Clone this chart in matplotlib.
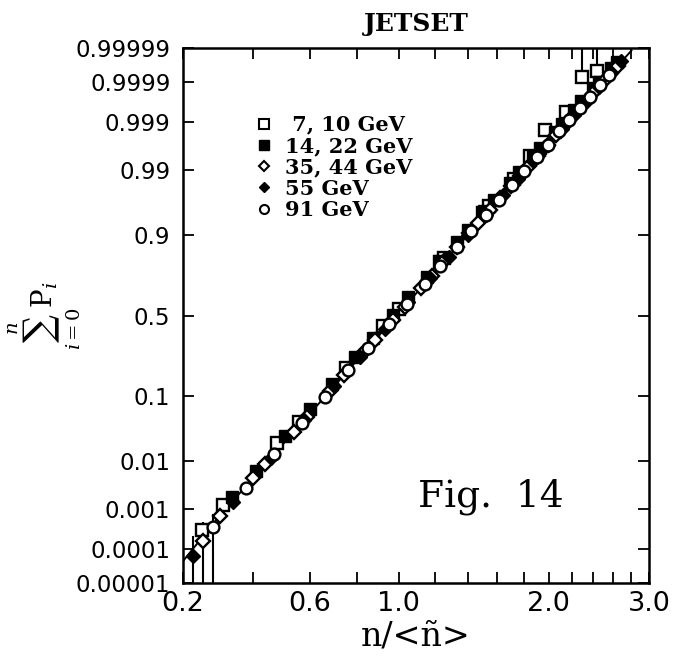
import numpy as np
import matplotlib
matplotlib.use("Agg")
import matplotlib.pyplot as plt
from matplotlib.lines import Line2D
from matplotlib.ticker import NullLocator
from statistics import NormalDist

# 7, 10 GeV (open squares)
sq_open_x = [0.25, 0.31, 0.48, 0.56, 0.75, 0.92, 1.00, 1.23, 1.25, 1.50, 1.54, 1.72, 1.85, 1.97, 2.15, 2.30, 2.44]
sq_open_p = [3.2e-4, 1.24e-3, 0.0214, 0.0452, 0.2033, 0.4325, 0.5438, 0.8051, 0.8212, 0.9495, 0.9599,
             0.98552, 0.99461, 0.99846, 0.999423, 0.999927, 0.99995]

# 14, 22 GeV (filled squares)
sq_fill_x = [0.335, 0.41, 0.51, 0.60, 0.69, 0.79, 0.87, 0.97, 1.05, 1.15, 1.23, 1.33, 1.40, 1.51,
             1.58, 1.69, 1.76, 1.87, 1.93, 2.05, 2.11, 2.22, 2.29, 2.40, 2.46, 2.58, 2.64]
sq_fill_p = [1.9e-3, 6.5e-3, 0.0269, 0.0681, 0.139, 0.2524, 0.3617, 0.5056, 0.6147, 0.7324, 0.8076,
             0.8782, 0.9137, 0.9518, 0.9675, 0.98295, 0.98887, 0.99444, 0.99624, 0.99831, 0.998875,
             0.999474, 0.999678, 0.999853, 0.999904, 0.999959, 0.999974]

# 35, 44 GeV (open diamonds)
dm_open_x = [0.253, 0.30, 0.40, 0.44, 0.54, 0.59, 0.68, 0.74, 0.83, 0.88, 0.97, 1.03, 1.12, 1.18,
             1.26, 1.33, 1.41, 1.47, 1.55, 1.62, 1.70, 1.77, 1.84, 1.91, 1.99, 2.06, 2.13, 2.21,
             2.28, 2.36, 2.43, 2.50, 2.58, 2.65]
dm_open_p = [1.64e-4, 7.15e-4, 4.73e-3, 8.79e-3, 0.0316, 0.0529, 0.1134, 0.1705, 0.2782, 0.3461,
             0.4737, 0.5570, 0.6713, 0.7372, 0.8106, 0.8612, 0.9053, 0.9301, 0.9542, 0.9690,
             0.98043, 0.98711, 0.99161, 0.99459, 0.99677, 0.99796, 0.998718, 0.999254, 0.999538,
             0.999735, 0.999838, 0.999901, 0.999944, 0.999966]

# 55 GeV (filled diamonds)
dm_fill_x = [0.226, 0.34, 0.46, 0.58, 0.70, 0.81, 0.93, 1.05, 1.17, 1.28, 1.40, 1.52, 1.64, 1.75,
             1.87, 1.99, 2.11, 2.22, 2.34, 2.46, 2.57, 2.69]
dm_fill_p = [6.4e-5, 1.5e-3, 0.01169, 0.0480, 0.1310, 0.2524, 0.4167, 0.5838, 0.7269, 0.8263, 0.9005,
             0.9462, 0.9723, 0.98545, 0.99304, 0.99677, 0.998535, 0.999303, 0.999695, 0.999869,
             0.99994, 0.999975]

# 91 GeV (open circles)
circ_x = [0.28, 0.38, 0.47, 0.57, 0.66, 0.76, 0.85, 0.95, 1.04, 1.14, 1.23, 1.33, 1.42, 1.52, 1.61,
          1.71, 1.80, 1.90, 1.99, 2.09, 2.18, 2.28, 2.37, 2.47, 2.56]
circ_p = [3.8e-4, 3.0e-3, 0.0134, 0.0434, 0.0973, 0.1924, 0.3048, 0.4452, 0.5705, 0.6942, 0.785,
          0.8612, 0.9099, 0.9462, 0.9672, 0.9815, 0.98926, 0.99424, 0.99677, 0.99833, 0.999085,
          0.999538, 0.999753, 0.999878, 0.999935]

# points carrying visible error bars
err_x = [0.226, 0.253, 0.28, 2.30, 2.44]
err_p = [6.4e-5, 1.64e-4, 3.8e-4, 0.999927, 0.99995]
err_lo = [1.6e-4, 3.2e-4, 4.0e-4, 2e-5, 2e-5]
err_hi = [1.6e-4, 3.2e-4, 4.0e-4, 1e-4, 1e-4]

# fitted curve
fit_x = [0.2, 0.3, 0.6, 1.0, 1.6, 2.2, 2.8]
fit_p = [4.5e-5, 7.1e-4, 0.0582, 0.516, 0.9652, 0.9992, 0.999988]

xticks = [0.2, 0.4, 0.6, 0.8, 1.0, 1.2, 1.4, 1.6, 1.8, 2.0, 2.2, 2.4, 2.6, 2.8, 3.0]
xtick_labels = ["0.2", "", "0.6", "", "1.0", "", "", "", "", "2.0", "", "", "", "", "3.0"]
yticks = [0.00001, 0.0001, 0.001, 0.01, 0.1, 0.5, 0.9, 0.99, 0.999, 0.9999, 0.99999]
ytick_labels = ["0.00001", "0.0001", "0.001", "0.01", "0.1", "0.5", "0.9", "0.99", "0.999",
                "0.9999", "0.99999"]

# probability-paper scales
_nd = NormalDist()
_ppf = np.vectorize(_nd.inv_cdf, otypes=[float])
_cdf = np.vectorize(_nd.cdf, otypes=[float])


def prob_fwd(p):
    p = np.clip(np.asarray(p, dtype=float), 1e-15, 1 - 1e-15)
    return _ppf(p)


def prob_inv(z):
    return _cdf(np.asarray(z, dtype=float))


def x_fwd(x):
    return np.log(np.clip(np.asarray(x, dtype=float) + 0.58, 1e-9, None))


def x_inv(u):
    return np.exp(np.asarray(u, dtype=float)) - 0.58


plt.rcParams["mathtext.fontset"] = "dejavuserif"

fig = plt.figure(figsize=(6.79, 6.62), dpi=100)
ax = fig.add_axes([0.2695, 0.1193, 0.6863, 0.8082])
ax.set_xscale("function", functions=(x_fwd, x_inv))
ax.set_yscale("function", functions=(prob_fwd, prob_inv))

ax.plot(fit_x, fit_p, color="k", lw=1.4, zorder=2)
ax.errorbar(err_x, err_p, yerr=[err_lo, err_hi], fmt="none", ecolor="k", elinewidth=1.5,
            capsize=0, zorder=2)

ms = 8.5
ax.plot(sq_open_x, sq_open_p, "s", ms=ms, mfc="white", mec="k", mew=1.7, zorder=3)
ax.plot(sq_fill_x, sq_fill_p, "s", ms=ms, color="k", zorder=3)
ax.plot(dm_open_x, dm_open_p, "D", ms=ms - 1.5, mfc="white", mec="k", mew=1.7, zorder=3)
ax.plot(dm_fill_x, dm_fill_p, "D", ms=ms - 1.5, color="k", zorder=3)
ax.plot(circ_x, circ_p, "o", ms=ms, mfc="white", mec="k", mew=1.7, zorder=3)

ax.set_xlim(0.2, 3.0)
ax.set_ylim(0.00001, 0.99999)
ax.set_xticks(xticks)
ax.set_xticklabels(xtick_labels, fontsize=19.5, family="DejaVu Sans")
ax.set_yticks(yticks)
ax.set_yticklabels(ytick_labels, fontsize=16.5, family="DejaVu Sans")
ax.xaxis.set_minor_locator(NullLocator())
ax.yaxis.set_minor_locator(NullLocator())
ax.tick_params(direction="in", length=8, width=1.3, top=True, right=True)
ax.tick_params(axis="y", pad=9)
ax.tick_params(axis="x", pad=6)
for s in ax.spines.values():
    s.set_linewidth(1.8)

ax.set_title("JETSET", fontsize=18, family="DejaVu Serif", weight="bold", pad=12)
ax.set_xlabel("n/<ñ>", fontsize=24, family="DejaVu Serif", labelpad=2)
fig.text(0.066, 0.523, r"$\sum_{i=0}^{n} \mathrm{P}_i$", rotation=90, fontsize=20,
         ha="center", va="center")
ax.text(0.661, 0.161, "Fig.  14", transform=ax.transAxes, ha="center", va="center",
        fontsize=27, family="DejaVu Serif")

handles = [
    Line2D([], [], ls="none", marker="s", ms=6.5, mfc="white", mec="k", mew=1.5),
    Line2D([], [], ls="none", marker="s", ms=6.5, color="k"),
    Line2D([], [], ls="none", marker="D", ms=5.5, mfc="white", mec="k", mew=1.5),
    Line2D([], [], ls="none", marker="D", ms=5.5, color="k"),
    Line2D([], [], ls="none", marker="o", ms=6.5, mfc="white", mec="k", mew=1.5),
]
labels = [" 7, 10 GeV", "14, 22 GeV", "35, 44 GeV", "55 GeV", "91 GeV"]
ax.legend(handles, labels, loc="upper left", bbox_to_anchor=(0.152, 0.875), frameon=False,
          handlelength=1.0, handletextpad=0.5, labelspacing=0.06, borderpad=0, borderaxespad=0,
          prop={"family": "DejaVu Serif", "weight": "bold", "size": 15})

fig.savefig("out.png", dpi=100)
